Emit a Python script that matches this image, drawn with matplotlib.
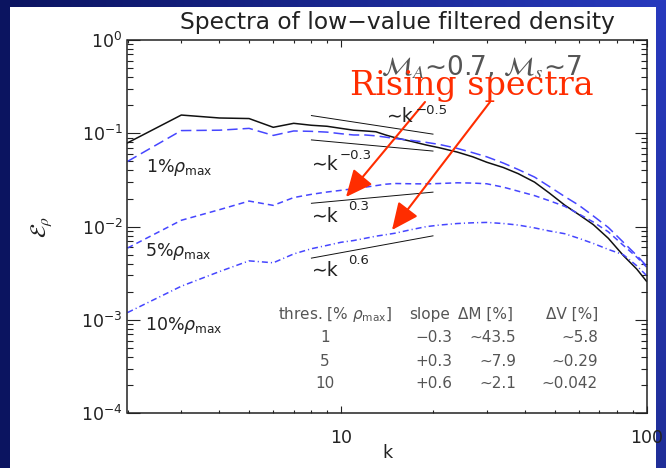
import numpy as np
import matplotlib
matplotlib.use("Agg")
import matplotlib.pyplot as plt
from matplotlib.ticker import FixedLocator, FixedFormatter, LogLocator, NullFormatter
from matplotlib.patches import FancyArrowPatch

plt.rcParams["font.family"] = ["DejaVu Sans"]
plt.rcParams["lines.scale_dashes"] = False

# ---- data -------------------------------------------------------------
k = [2, 3, 4, 5, 6, 7, 8, 9, 10, 11, 12, 13, 14, 15, 17, 19, 21, 24, 27,
     30, 34, 38, 43, 48, 54, 60, 67, 75, 84, 93, 100]

spec_full = [0.079, 0.157, 0.146, 0.144, 0.116, 0.128, 0.122, 0.119, 0.113,
             0.108, 0.106, 0.104, 0.096, 0.090, 0.082, 0.075, 0.070, 0.063,
             0.056, 0.049, 0.043, 0.037, 0.030, 0.023, 0.017, 0.0135, 0.0105,
             0.0075, 0.0049, 0.0035, 0.0026]

spec_1pct = [0.050, 0.107, 0.108, 0.113, 0.095, 0.106, 0.105, 0.103, 0.099,
             0.096, 0.096, 0.094, 0.091, 0.088, 0.084, 0.080, 0.076, 0.069,
             0.062, 0.056, 0.048, 0.041, 0.034, 0.027, 0.021, 0.017, 0.013,
             0.0098, 0.0068, 0.0049, 0.0038]

spec_5pct = [0.0059, 0.0117, 0.0152, 0.0188, 0.0169, 0.0205, 0.0222, 0.0235,
             0.0245, 0.0255, 0.0265, 0.0275, 0.0285, 0.0290, 0.0288, 0.0287,
             0.0290, 0.0295, 0.0293, 0.0288, 0.0265, 0.0240, 0.0215, 0.0190,
             0.0165, 0.0137, 0.0112, 0.0088, 0.0063, 0.0047, 0.0037]

spec_10pct = [0.0012, 0.0023, 0.0033, 0.0043, 0.0041, 0.0051, 0.0058, 0.0063,
              0.0068, 0.0071, 0.0075, 0.0079, 0.0082, 0.0085, 0.0093, 0.0100,
              0.0104, 0.0108, 0.0110, 0.0111, 0.0108, 0.0104, 0.0097, 0.0090,
              0.0084, 0.0075, 0.0066, 0.0057, 0.0050, 0.0038, 0.0030]

# power-law guide segments: k range, slope, amplitude at k = 8
guide_k = [8, 20]
guide_slopes = [-0.5, -0.3, 0.3, 0.6]
guide_norm = [0.155, 0.085, 0.0178, 0.0046]
guide_exp_text = ["\u22120.5", "\u22120.3", "0.3", "0.6"]

threshold_labels = ["1%", "5%", "10%"]

table_header = ["thres. [% $\\rho_{\\rm max}$]", "slope", "\u0394M [%]", "\u0394V [%]"]
table_thres = ["1", "5", "10"]
table_slope = ["\u22120.3", "+0.3", "+0.6"]
table_dM = ["\u223c43.5", "\u223c7.9", "\u223c2.1"]
table_dV = ["\u223c5.8", "\u223c0.29", "\u223c0.042"]

# ---- figure -----------------------------------------------------------
W, H = 666, 468
fig = plt.figure(figsize=(W / 100, H / 100), dpi=100)
fig.patch.set_facecolor("white")


def P(x, y):
    """pixel position (from top-left) -> figure fraction"""
    return (x / W, 1 - y / H)


# slide frame: dark strip on the left, gradient strips on top and right
navy = np.array([11, 20, 96]) / 255
royal = np.array([40, 58, 190]) / 255
grad = np.linspace(0, 1, 256)[None, :, None]
top_img = navy + (royal - navy) * grad
bar = fig.add_axes([0, 1 - 7 / H, 1, 7 / H])
bar.imshow(top_img, aspect="auto")
bar.axis("off")
left = fig.add_axes([0, 0, 10 / W, 1])
left.set_facecolor(navy)
left.set_xticks([]); left.set_yticks([])
for s in left.spines.values():
    s.set_visible(False)
right = fig.add_axes([656 / W, 0, 10 / W, 1])
right_img = royal * np.ones((256, 1, 3)) * np.linspace(1.0, 0.8, 256)[:, None, None]
right.imshow(right_img, aspect="auto")
right.axis("off")

ax = fig.add_axes([127.5 / W, 1 - 413.3 / H, 519 / W, 373.3 / H])

blue = "#4646ff"
ax.plot(k, spec_full, color="#111111", lw=1.1)
ax.plot(k, spec_1pct, color=blue, lw=1.1, dashes=(7.5, 3.6))
ax.plot(k, spec_5pct, color=blue, lw=1.1, dashes=(4.3, 2.9))
ax.plot(k, spec_10pct, color=blue, lw=1.1, dashes=(4.3, 2.2, 0.8, 2.2))

for s, a in zip(guide_slopes, guide_norm):
    ax.plot(guide_k, [a * (kk / guide_k[0]) ** s for kk in guide_k],
            color="#111111", lw=0.7)

ax.set_xscale("log")
ax.set_yscale("log")
ax.set_xlim(2, 100)
ax.set_ylim(1e-4, 1)

ax.xaxis.set_major_locator(FixedLocator([10, 100]))
ax.xaxis.set_major_formatter(FixedFormatter(["10", "100"]))
ax.xaxis.set_minor_locator(LogLocator(base=10, subs=np.arange(2, 10), numticks=20))
ax.xaxis.set_minor_formatter(NullFormatter())
ax.yaxis.set_major_locator(LogLocator(base=10, numticks=10))
ax.yaxis.set_minor_locator(LogLocator(base=10, subs=np.arange(2, 10), numticks=20))
ax.yaxis.set_minor_formatter(NullFormatter())

ink = "#222222"
ax.tick_params(axis="both", which="both", direction="in", top=True, right=True,
               colors=ink, width=0.8)
ax.tick_params(axis="x", which="major", length=5, pad=11, labelsize=12.5)
ax.tick_params(axis="x", which="minor", length=2.2)
ax.tick_params(axis="y", which="major", length=9, pad=3.5, labelsize=12.5)
ax.tick_params(axis="y", which="minor", length=4)
for s in ax.spines.values():
    s.set_linewidth(1.1)
    s.set_color(ink)

ax.set_xlabel("k", fontsize=12.5, color=ink)
ax.xaxis.set_label_coords(0.5, (413.3 - 444) / 373.3)
ax.set_ylabel(r"$\mathcal{E}_\rho$", fontsize=16, color=ink, math_fontfamily="stix")
ax.yaxis.set_label_coords((54 - 127.5) / 519, 0.5)

fig.text(*P(397, 22), "Spectra of low\u2212value filtered density", ha="center",
         va="center", fontsize=16.8, color=ink)

# threshold labels
for lab, (x, y) in zip(threshold_labels, [(146, 168), (145, 251), (145, 325)]):
    fig.text(*P(x, y), lab + r"$\rho_{\rm max}$", ha="left", va="center",
             fontsize=12.5, color=ink)

# power-law labels
k_pos = [(386, 117), (311, 164), (311, 217), (311, 270)]
e_pos = [(416, 110), (340, 156), (348, 206), (348, 261)]
for (kx, ky), (ex, ey), et in zip(k_pos, e_pos, guide_exp_text):
    fig.text(*P(kx, ky), "\u223ck", ha="left", va="center", fontsize=13.5, color=ink)
    fig.text(*P(ex, ey), et, ha="left", va="center", fontsize=9.5, color=ink)

# Mach numbers and highlight
fig.text(*P(381, 68), r"$\mathcal{M}_A$" + "\u223c0.7, " + r"$\mathcal{M}_s$" + "\u223c7",
         ha="left", va="center", fontsize=19, color="#555555", math_fontfamily="stix")
red = "#ff2d00"
fig.text(*P(350, 86), "Rising spectra", ha="left", va="center", fontsize=24,
         family="DejaVu Serif", color=red)
for tail, tip in [((425, 102), (346, 197)), ((490, 102), (392, 230))]:
    fig.add_artist(FancyArrowPatch(P(*tail), P(*tip), transform=fig.transFigure,
                                   arrowstyle="-|>,head_length=1.1,head_width=0.5",
                                   mutation_scale=15, color=red, lw=1.5,
                                   shrinkA=0, shrinkB=0))

# summary table
grey = "#555555"
fs_t = 11
fig.text(*P(278, 314), table_header[0], ha="left", va="center", fontsize=fs_t, color=grey)
fig.text(*P(450, 314), table_header[1], ha="right", va="center", fontsize=fs_t, color=grey)
fig.text(*P(513, 314), table_header[2], ha="right", va="center", fontsize=fs_t, color=grey)
fig.text(*P(598, 314), table_header[3], ha="right", va="center", fontsize=fs_t, color=grey)
for row, y in enumerate([338, 361, 384]):
    fig.text(*P(325, y), table_thres[row], ha="center", va="center", fontsize=fs_t, color=grey)
    fig.text(*P(452, y), table_slope[row], ha="right", va="center", fontsize=fs_t, color=grey)
    fig.text(*P(516, y), table_dM[row], ha="right", va="center", fontsize=fs_t, color=grey)
    fig.text(*P(598, y), table_dV[row], ha="right", va="center", fontsize=fs_t, color=grey)

fig.savefig("out.png", dpi=100)
